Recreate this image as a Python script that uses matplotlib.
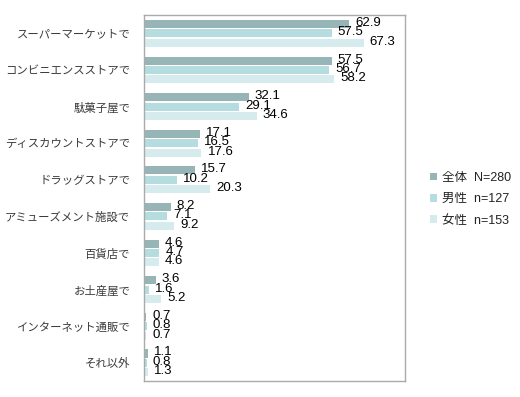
import numpy as np
import matplotlib
matplotlib.use('Agg')
import matplotlib.pyplot as plt

plt.rcParams['font.family'] = ['Noto Sans CJK JP', 'DejaVu Sans']

# data
categories = ['スーパーマーケットで', 'コンビニエンスストアで', '駄菓子屋で', 'ディスカウントストアで',
              'ドラッグストアで', 'アミューズメント施設で', '百貨店で', 'お土産屋で',
              'インターネット通販で', 'それ以外']
total = [62.9, 57.5, 32.1, 17.1, 15.7, 8.2, 4.6, 3.6, 0.7, 1.1]
male = [57.5, 56.7, 29.1, 16.5, 10.2, 7.1, 4.7, 1.6, 0.8, 0.8]
female = [67.3, 58.2, 34.6, 17.6, 20.3, 9.2, 4.6, 5.2, 0.7, 1.3]
series_names = ['全体  N=280', '男性  n=127', '女性  n=153']
colors = ['#97b5b6', '#b5dde0', '#d5ebee']

fig = plt.figure(figsize=(5.2, 3.97), dpi=100)
ax = fig.add_axes([0.277, 0.040, 0.502, 0.922])

y = np.arange(len(categories))
h = 0.22
step = 0.255
for k, (vals, c, name) in enumerate(zip([total, male, female], colors, series_names)):
    pos = y + (k - 1) * step
    ax.barh(pos, vals, height=h, color=c, label=name)
    for p, v in zip(pos, vals):
        ax.annotate('%.1f' % v, (v, p), xytext=(6, 1), textcoords='offset pixels',
                    va='center', ha='left', fontsize=9.5, color='black',
                    family=['Liberation Sans', 'DejaVu Sans'])

ax.set_xlim(0, 80)
ax.set_ylim(len(categories) - 0.5, -0.5)
ax.set_xticks([])
ax.set_yticks(y)
ax.set_yticklabels(categories, fontsize=8.2, color='#3a3a3a')
ax.tick_params(axis='y', length=0, pad=10)
for s in ax.spines.values():
    s.set_color('#aaaaaa')
    s.set_linewidth(1.0)

leg = fig.legend(loc='center left', bbox_to_anchor=(0.806, 0.498), frameon=False,
                 prop={'family': ['Liberation Sans', 'Noto Sans CJK JP'], 'size': 9},
                 handlelength=0.55, handleheight=0.55, handletextpad=0.35,
                 labelspacing=0.75)
for t in leg.get_texts():
    t.set_color('#222222')

fig.savefig('out.png', dpi=100)
